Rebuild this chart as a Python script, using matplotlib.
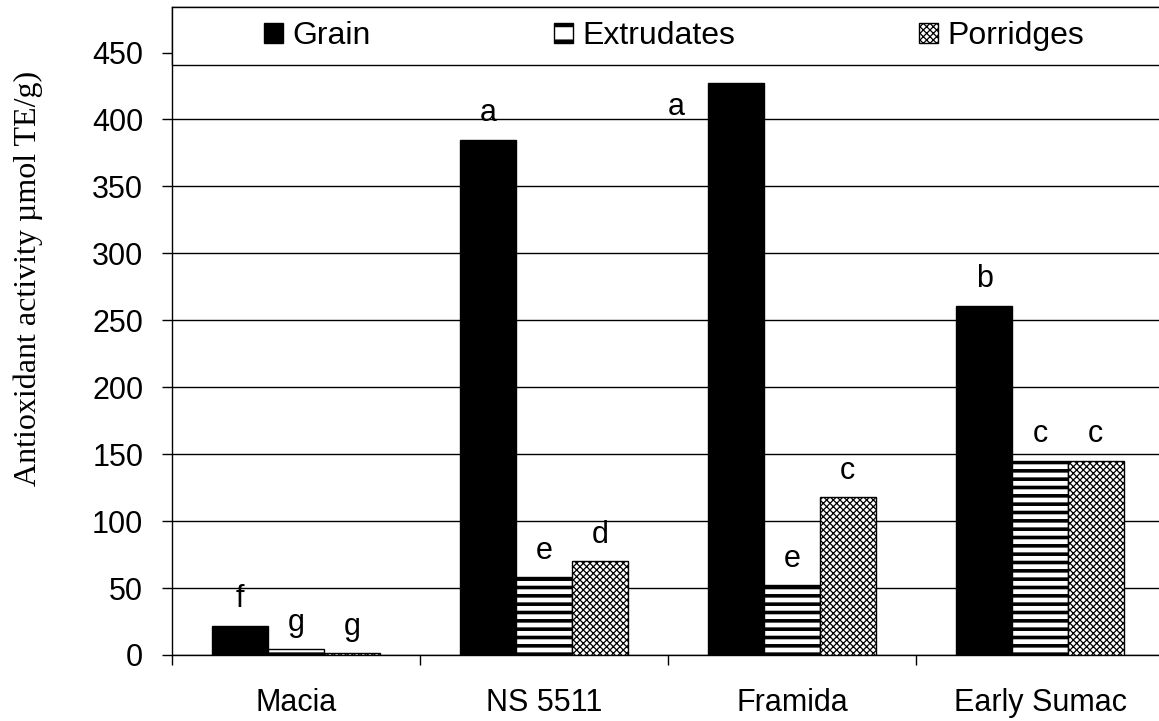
import matplotlib
matplotlib.use('Agg')
import matplotlib.pyplot as plt
from matplotlib.patches import Rectangle
import numpy as np

categories = ['Macia', 'NS 5511', 'Framida', 'Early Sumac']
series_names = ['Grain', 'Extrudates', 'Porridges']
grain = [22, 385, 427, 261]
extrudates = [4.5, 58, 52, 145]
porridges = [1.5, 70, 118, 145]
grain_letters = ['f', 'a', 'a', 'b']
extrudate_letters = ['g', 'e', 'e', 'c']
porridge_letters = ['g', 'd', 'c', 'c']
yticks = [0, 50, 100, 150, 200, 250, 300, 350, 400, 450]
ylabel = 'Antioxidant activity µmol TE/g)'

plt.rcParams['font.family'] = ['Liberation Sans', 'DejaVu Sans']

W, H = 1159, 721
fig = plt.figure(figsize=(W / 100, H / 100), dpi=100)
left, right, bottom, top = 172, 1164, 655, 7
ax = fig.add_axes([left / W, (H - bottom) / H, (right - left) / W, (bottom - top) / H])

x = np.arange(len(categories))
bw = 0.225
styles = [
    dict(facecolor='black', edgecolor='black', hatch=None, hlw=1.0),
    dict(facecolor='white', edgecolor='black', hatch='--', hlw=2.6),
    dict(facecolor='white', edgecolor='black', hatch='xxxxx', hlw=0.9),
]
all_vals = [grain, extrudates, porridges]
all_letters = [grain_letters, extrudate_letters, porridge_letters]
handles = []
for i, (vals, st, name) in enumerate(zip(all_vals, styles, series_names)):
    plt.rcParams['hatch.linewidth'] = st['hlw']
    bars = ax.bar(x + (i - 1) * bw, vals, width=bw, facecolor=st['facecolor'],
                  edgecolor=st['edgecolor'], hatch=st['hatch'], linewidth=1.0,
                  zorder=3, label=name)
    for p in bars.patches:
        if hasattr(p, 'set_hatch_linewidth'):
            p.set_hatch_linewidth(st['hlw'])
    handles.append(bars)

# significance letters
for i, (vals, letters) in enumerate(zip(all_vals, all_letters)):
    for j, (v, lt) in enumerate(zip(vals, letters)):
        dx, dy = 0, 13.3
        if i == 0 and j == 2:
            dx, dy = -43, -23
        ax.annotate(lt, (x[j] + (i - 1) * bw, v), xytext=(dx, dy),
                    textcoords='offset points', ha='center', va='baseline',
                    fontsize=22, zorder=5)

ax.set_xlim(-0.5, len(categories) - 0.5)
ax.set_ylim(0, 484)
ax.set_yticks(yticks)
ax.yaxis.grid(True, color='black', linewidth=1.0, zorder=0)
ax.set_axisbelow(True)
ax.tick_params(axis='y', direction='out', length=7.2, width=1.0, pad=13.5,
               labelsize=22, color='black')
ax.set_xticks(x)
ax.set_xticklabels(categories)
ax.set_xticks(np.arange(len(categories) + 1) - 0.5, minor=True)
ax.tick_params(axis='x', which='major', length=0, pad=24, labelsize=22)
ax.tick_params(axis='x', which='minor', length=7.2, width=1.0, direction='out')
ax.spines['right'].set_visible(False)
for s in ['left', 'bottom', 'top']:
    ax.spines[s].set_linewidth(1.0)

# legend box across the top of the plot area
box_bottom = (bottom - 65) / (bottom - top)
ax.add_patch(Rectangle((0, box_bottom), 1.0, 1 - box_bottom, transform=ax.transAxes,
                       facecolor='white', edgecolor='black', linewidth=1.0,
                       zorder=6, clip_on=False))
leg = ax.legend(handles=handles, ncol=3, frameon=False, loc='center left',
                bbox_to_anchor=((264 - left) / (right - left), (bottom - 36) / (bottom - top)),
                fontsize=23, borderpad=0, handlelength=0.6, handleheight=0.6,
                handletextpad=0.28, columnspacing=5.75, borderaxespad=0)
leg.set_zorder(7)
for h, st in zip(leg.legend_handles, styles):
    if hasattr(h, 'set_hatch_linewidth'):
        h.set_hatch_linewidth(st['hlw'] if st['hatch'] != '--' else 3.2)
    if st['hatch'] == '--':
        h.set_hatch('-')

fig.text(28 / W, 1 - 278 / H, ylabel, rotation=90, ha='center', va='center',
         fontsize=23, family=['Liberation Serif', 'DejaVu Serif'])

fig.savefig('out.png', dpi=100)
